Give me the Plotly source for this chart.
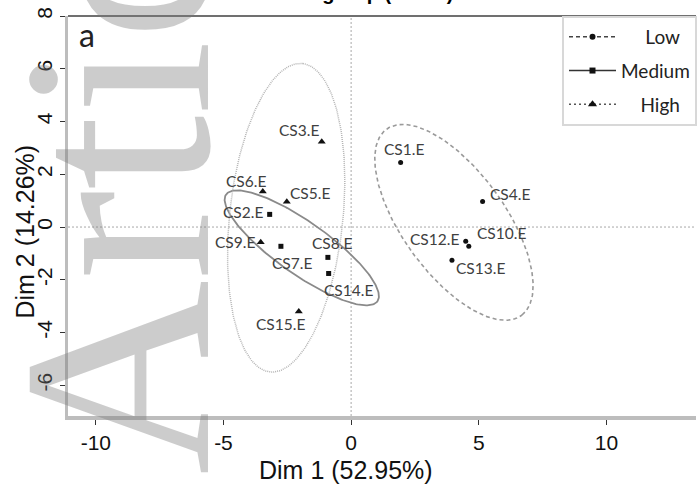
import numpy as np
import plotly.graph_objects as go

# ---------------- data ----------------
samples = ["CS1.E", "CS2.E", "CS3.E", "CS4.E", "CS5.E", "CS6.E", "CS7.E",
           "CS8.E", "CS9.E", "CS10.E", "CS12.E", "CS13.E", "CS14.E", "CS15.E"]
dim1 = [1.94, -3.19, -1.15, 5.15, -2.52, -3.46, -2.75,
        -0.91, -3.54, 4.61, 4.49, 3.95, -0.88, -2.05]
dim2 = [2.45, 0.48, 3.23, 0.97, 0.96, 1.35, -0.73,
        -1.15, -0.58, -0.73, -0.54, -1.26, -1.76, -3.20]
groups = ["Low", "Medium", "High", "Low", "High", "High", "Medium",
          "Medium", "High", "Low", "Low", "Low", "Medium", "High"]

group_names = ["Low", "Medium", "High"]
legend_labels = ["\u00a0\u00a0\u00a0\u00a0\u00a0Low", "Medium", "\u00a0\u00a0\u00a0\u00a0High"]
# confidence-ellipse shape (semi axes in data units, angle in degrees)
ellipse_a = [4.41, 3.59, 5.88]
ellipse_b = [1.99, 1.00, 2.22]
ellipse_angle = [-52.8, -34.2, 83.75]

x_ticks = [-10, -5, 0, 5, 10]
x_tick_text = ["-10", "-5", "0", "5", "10"]
y_ticks = [-6, -4, -2, 0, 2, 4, 6, 8]
y_tick_text = ["-6", "-4", "-2", "0", "2", "4", "6", "8"]

x_title = "Dim 1 (52.95%)"
y_title = "Dim 2 (14.26%)"

# ---------------- styles ----------------
label_dx = [3, -27, -23, 27, 23, -16.5, 11, 4, -26, 32.5, -31, 29, 20, -18]
label_dy = [13, 2.5, 11.5, 7, 9, 10, -16.5, 14.5, 0.5, 13.5, 2, -7.5, -17, -12.5]

style = {
    "Low":    dict(symbol="circle", size=5, ecolor="#9a9a9a", edash="4px,3px", ewidth=1.6,
                   lcolor="#444444", ldash="4px,3px"),
    "Medium": dict(symbol="square", size=5, ecolor="#8a8a8a", edash="solid", ewidth=1.8,
                   lcolor="#333333", ldash="solid"),
    "High":   dict(symbol="triangle-up", size=7, ecolor="#b4b4b4", edash="1px,1px", ewidth=1.5,
                   lcolor="#555555", ldash="2px,3px"),
}

FONT_AX = "Liberation Sans, Arial, sans-serif"
FONT_LB = "Lato, Open Sans, sans-serif"

fig = go.Figure()

d1 = np.array(dim1)
d2 = np.array(dim2)
g = np.array(groups)
t = np.linspace(0, 2 * np.pi, 240)

for i, name in enumerate(group_names):
    m = g == name
    cx, cy = d1[m].mean(), d2[m].mean()
    th = np.deg2rad(ellipse_angle[i])
    ex = cx + ellipse_a[i] * np.cos(t) * np.cos(th) - ellipse_b[i] * np.sin(t) * np.sin(th)
    ey = cy + ellipse_a[i] * np.cos(t) * np.sin(th) + ellipse_b[i] * np.sin(t) * np.cos(th)
    s = style[name]
    fig.add_trace(go.Scatter(x=ex, y=ey, mode="lines", showlegend=False, hoverinfo="skip",
                             line=dict(color=s["ecolor"], width=s["ewidth"], dash=s["edash"])))

for name in group_names:
    m = g == name
    s = style[name]
    fig.add_trace(go.Scatter(x=d1[m], y=d2[m], mode="markers", showlegend=False,
                             marker=dict(symbol=s["symbol"], size=s["size"], color="#111111"),
                             text=[samples[k] for k in np.where(m)[0]]))

# legend entries (line + marker)
for i, name in enumerate(group_names):
    s = style[name]
    fig.add_trace(go.Scatter(x=[None], y=[None], mode="lines+markers", name=legend_labels[i],
                             legendgroup=name,
                             line=dict(color=s["lcolor"], width=1.5, dash=s["ldash"]),
                             marker=dict(symbol=s["symbol"], size=s["size"] + 1, color="#111111")))

annotations = []
for k, lab in enumerate(samples):
    annotations.append(dict(x=dim1[k], y=dim2[k], xref="x", yref="y", text=lab,
                            showarrow=False, xshift=label_dx[k], yshift=label_dy[k],
                            xanchor="center", yanchor="middle",
                            font=dict(family=FONT_LB, size=15.5, color="#404040")))

# panel letter
annotations.append(dict(x=0.030, y=0.955, xref="paper", yref="paper", text="a",
                        showarrow=False, xanchor="center", yanchor="middle",
                        font=dict(family=FONT_LB, size=32, color="#222222")))
# axis titles
annotations.append(dict(x=-0.2, y=-0.135, xref="x", yref="paper", text=x_title,
                        showarrow=False, xanchor="center", yanchor="middle",
                        font=dict(family=FONT_AX, size=25, color="#111111")))
annotations.append(dict(x=-0.068, y=-0.16, xref="paper", yref="y", text=y_title,
                        showarrow=False, xanchor="center", yanchor="middle", textangle=-90,
                        font=dict(family=FONT_AX, size=25, color="#111111")))
# chart title (cut off at the top of the picture)
annotations.append(dict(x=0.616, y=1.057, xref="paper", yref="paper",
                        text="PCA - Individuals group (Site E)",
                        showarrow=False, xanchor="right", yanchor="middle",
                        font=dict(family=FONT_AX, size=20, color="#000000", weight="bold")))
# watermark
annotations.append(dict(x=0.078, y=0.790, xref="paper", yref="paper", text="Article",
                        showarrow=False, xanchor="center", yanchor="middle", textangle=-90,
                        font=dict(family="Liberation Serif, DejaVu Serif, serif", size=270,
                                  color="rgba(120,120,120,0.38)")))

shapes = [
    dict(type="line", xref="x", yref="paper", x0=0, x1=0, y0=0, y1=1,
         line=dict(color="#a8a8a8", width=1, dash="2px,2px"), layer="below"),
    dict(type="line", xref="paper", yref="y", x0=0, x1=1, y0=0, y1=0,
         line=dict(color="#a8a8a8", width=1, dash="2px,2px"), layer="below"),
    dict(type="line", xref="paper", yref="paper", x0=0, x1=1, y0=1, y1=1,
         line=dict(color="#707070", width=2)),
]

fig.update_layout(
    width=697, height=486,
    margin=dict(l=68, r=0, t=16, b=70),
    paper_bgcolor="white", plot_bgcolor="white",
    showlegend=True,
    legend=dict(x=0.787, y=1, xanchor="left", yanchor="top",
                bgcolor="white", bordercolor="#d8d8d8", borderwidth=2,
                font=dict(family=FONT_LB, size=19, color="#222222"),
                itemwidth=47,
                traceorder="grouped", tracegroupgap=6, entrywidth=200),
    annotations=annotations,
    shapes=shapes,
    xaxis=dict(range=[-11.09, 13.51], tickvals=x_ticks, ticktext=x_tick_text,
               ticks="outside", ticklen=5,
               tickcolor="#333333", showgrid=False, zeroline=False,
               showline=True, linecolor="#bdbdbd", linewidth=4,
               tickfont=dict(family=FONT_AX, size=21, color="#111111")),
    yaxis=dict(range=[-7.163, 8.0], tickvals=y_ticks, ticktext=y_tick_text,
               ticks="outside", ticklen=5,
               tickcolor="#333333", showgrid=False, zeroline=False, tickangle=-90,
               showline=True, linecolor="#bdbdbd", linewidth=3,
               tickfont=dict(family=FONT_AX, size=21, color="#111111")),
)

fig.write_html("out.html", config={"displayModeBar": False},
               post_script="document.body.style.margin='0';document.body.style.overflow='hidden';")
